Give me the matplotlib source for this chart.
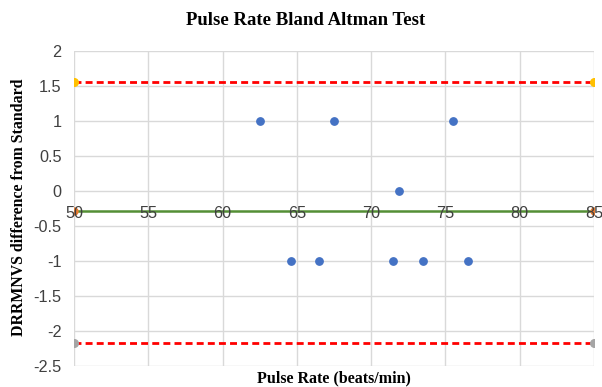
import matplotlib.pyplot as plt

# Bland-Altman data
pulse_avg = [62.5, 67.5, 75.5, 71.9, 64.6, 66.5, 71.5, 73.5, 76.5]
pulse_diff = [1, 1, 1, 0, -1, -1, -1, -1, -1]

limit_x = [50, 85]
upper_loa = [1.56, 1.56]
lower_loa = [-2.17, -2.17]
mean_diff = [-0.29, -0.29]

x_ticks = [50, 55, 60, 65, 70, 75, 80, 85]
y_ticks = [2, 1.5, 1, 0.5, 0, -0.5, -1, -1.5, -2, -2.5]

fig = plt.figure(figsize=(6.02, 3.87), dpi=100)
ax = fig.add_axes([74 / 602, 1 - 366 / 387, 520 / 602, 315 / 387])

# Lines first, markers on top
ax.plot(limit_x, mean_diff, color='#548F35', linewidth=1.8, zorder=2)
ax.plot(limit_x, mean_diff, 'o', color='#ED7D31', markersize=5, zorder=3)
ax.plot(limit_x, upper_loa, '--', color='#FF0000', linewidth=2, dashes=(2.5, 1.5), zorder=2)
ax.plot(limit_x, upper_loa, 'o', color='#FFC000', markersize=5.5, zorder=3)
ax.plot(limit_x, lower_loa, '--', color='#FF0000', linewidth=2, dashes=(2.5, 1.5), zorder=2)
ax.plot(limit_x, lower_loa, 'o', color='#A5A5A5', markersize=5.5, zorder=3)

ax.plot(pulse_avg, pulse_diff, 'o', color='#4472C4', markersize=5.3, zorder=4)

ax.set_xlim(50, 85)
ax.set_ylim(-2.5, 2)
ax.set_xticks(x_ticks)
ax.set_yticks(y_ticks)
ax.set_yticklabels([f"{v:g}" for v in y_ticks])

# gridlines: horizontal from the y axis, vertical drawn below the data
ax.grid(True, axis='y', color='#D9D9D9', linewidth=1)
ax.set_axisbelow(True)
for xt in x_ticks:
    ax.axvline(xt, color='#D9D9D9', linewidth=1, zorder=0.4)

# Excel style: horizontal axis crosses at 0, its labels sit over the lines
for s in ['top', 'right', 'left']:
    ax.spines[s].set_visible(False)
ax.spines['bottom'].set_position(('data', 0))
ax.spines['bottom'].set_visible(False)
ax.xaxis.set_zorder(5)

ax.tick_params(axis='both', length=0, labelsize=11.7, labelcolor='#404040')
ax.tick_params(axis='x', pad=11)
ax.tick_params(axis='y', pad=9)
for lbl in ax.get_xticklabels() + ax.get_yticklabels():
    lbl.set_family('Liberation Sans')

fig.text(0.507, 0.948, "Pulse Rate Bland Altman Test", ha='center', va='center',
         family='Liberation Serif', fontweight='bold', fontsize=13.5)
fig.text(0.555, 0.021, "Pulse Rate (beats/min)", ha='center', va='center',
         family='Liberation Serif', fontweight='bold', fontsize=11.5)
fig.text(0.031, 0.464, "DRRMNVS difference from Standard", ha='center', va='center',
         rotation=90, family='Liberation Serif', fontweight='bold', fontsize=11.4)

fig.savefig("out.png", dpi=100)
